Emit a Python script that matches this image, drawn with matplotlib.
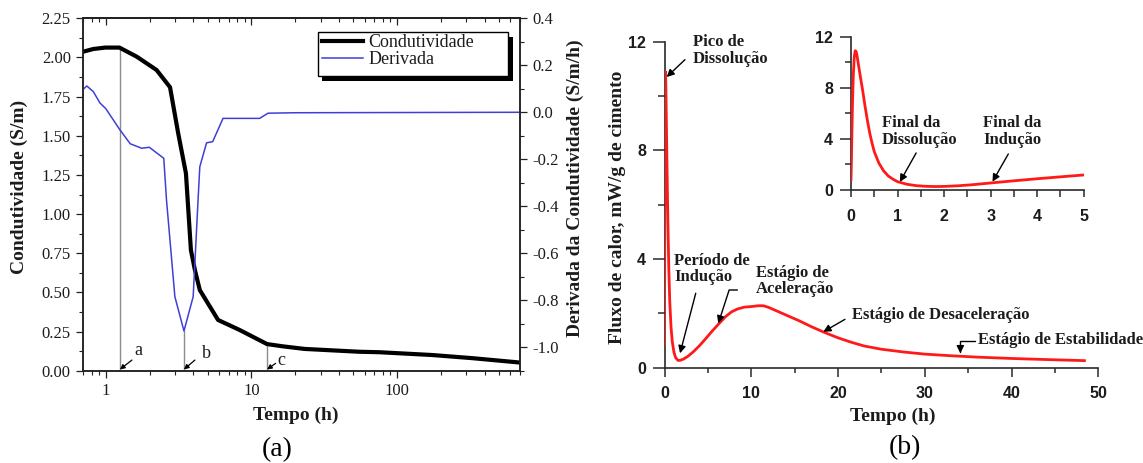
import matplotlib
matplotlib.use("Agg")
import matplotlib.pyplot as plt
from matplotlib.patches import Rectangle
from matplotlib.ticker import MultipleLocator, LogLocator, NullFormatter, FixedLocator

# ---------------- data: panel (a) ----------------
cond_t = [0.7, 0.82, 0.99, 1.24, 1.63, 2.23, 2.76, 3.14, 3.55, 3.84, 4.09, 4.42,
          5.9, 8.3, 12.8, 16.3, 23.2, 55, 75.6, 175, 330, 700]
cond_val = [2.037, 2.054, 2.063, 2.063, 2.005, 1.92, 1.81, 1.516, 1.26, 0.77, 0.643,
            0.515, 0.324, 0.26, 0.17, 0.156, 0.139, 0.121, 0.118, 0.10, 0.08, 0.052]

deriv_t = [0.7, 0.74, 0.82, 0.91, 1.0, 1.25, 1.47, 1.76, 1.99, 2.29, 2.5, 2.61, 2.98,
           3.44, 3.98, 4.3, 4.42, 4.92, 5.42, 6.38, 11.4, 13.0, 20, 700]
deriv_val = [0.098, 0.112, 0.088, 0.04, 0.015, -0.075, -0.134, -0.153, -0.149, -0.178,
             -0.196, -0.373, -0.785, -0.931, -0.785, -0.373, -0.232, -0.13, -0.125,
             -0.026, -0.026, -0.004, -0.002, 0.0]

marker_labels = ["a", "b", "c"]
marker_t = [1.25, 3.44, 12.8]
marker_top = [2.063, 0.253, 0.17]

legend_labels = ["Condutividade", "Derivada"]

# ---------------- data: panel (b) ----------------
flux_t = [0.0, 0.02, 0.05, 0.07, 0.1, 0.15, 0.22, 0.3, 0.4, 0.5, 0.6, 0.75, 0.9, 1.1,
          1.3, 1.55, 1.8, 2.2, 2.7, 3.3, 4.0, 4.7, 5.5, 6.3, 7.0, 7.7, 8.4, 9.2, 10.0,
          10.8, 11.4, 12.0, 13.0, 14.0, 15.5, 17.0, 18.5, 20.0, 21.5, 23.0, 25.0, 27.5,
          30.0, 33.0, 36.0, 40.0, 44.0, 48.4]
flux_val = [0.86, 3.5, 8.0, 9.8, 10.9, 10.5, 9.0, 7.2, 5.2, 3.6, 2.5, 1.5, 0.95, 0.55,
            0.36, 0.27, 0.27, 0.32, 0.42, 0.58, 0.8, 1.05, 1.35, 1.63, 1.87, 2.05, 2.16,
            2.23, 2.25, 2.28, 2.28, 2.22, 2.08, 1.94, 1.73, 1.5, 1.29, 1.1, 0.94, 0.8,
            0.68, 0.58, 0.5, 0.44, 0.39, 0.34, 0.3, 0.26]

inset_t = [0.0, 0.01, 0.02, 0.035, 0.05, 0.07, 0.09, 0.11, 0.13, 0.16, 0.2, 0.25, 0.3,
           0.35, 0.4, 0.45, 0.5, 0.6, 0.7, 0.8, 0.9, 1.0, 1.2, 1.4, 1.6, 1.8, 2.0, 2.3,
           2.6, 3.0, 3.5, 4.0, 4.5, 4.98]
inset_val = [0.8, 2.5, 4.6, 7.2, 9.0, 10.4, 10.9, 10.85, 10.5, 9.8, 8.9, 7.8, 6.6, 5.5,
             4.5, 3.7, 3.0, 2.1, 1.5, 1.1, 0.85, 0.65, 0.45, 0.34, 0.29, 0.27, 0.28,
             0.33, 0.41, 0.55, 0.72, 0.88, 1.03, 1.17]

W, H = 1143, 463
fig = plt.figure(figsize=(W / 100, H / 100), dpi=100)

SERIF = "Liberation Serif"
SANS = "Liberation Sans"
TXT = "#1c1c1c"

# ================= panel (a) =================
ax = fig.add_axes([83.3 / W, 1 - 370.7 / H, 436.7 / W, 352.4 / H])
ax.set_xscale("log")
ax.set_xlim(0.7, 700)
ax.set_ylim(0, 2.25)
ax2 = ax.twinx()
ax2.set_ylim(-1.1, 0.4)

for m_t, m_top in zip(marker_t, marker_top):
    ax.plot([m_t, m_t], [0, m_top], color="#8c8c8c", lw=1.0, zorder=1)

l1, = ax.plot(cond_t, cond_val, color="black", lw=3.0, solid_joinstyle="round", zorder=3)
l2, = ax2.plot(deriv_t, deriv_val, color="#3f3fd8", lw=1.1, zorder=2)

# marker letters with small arrows
letter_pos = [(1.68, 0.132), (4.92, 0.111), (16.0, 0.068)]
arrow_tail = [(1.51, 0.068), (4.09, 0.068), (14.67, 0.047)]
for lab, m_t, (lx, ly), (tx, ty) in zip(marker_labels, marker_t, letter_pos, arrow_tail):
    ax.text(lx, ly, lab, fontsize=13, family=SERIF, color=TXT, ha="center", va="center")
    ax.annotate("", xy=(m_t, 0.008), xytext=(tx, ty),
                arrowprops=dict(arrowstyle="-|>", lw=0.9, color="black", mutation_scale=7,
                                shrinkA=0, shrinkB=0))

ax.yaxis.set_major_locator(MultipleLocator(0.25))
ax.yaxis.set_minor_locator(MultipleLocator(0.125))
ax.yaxis.set_major_formatter(matplotlib.ticker.FormatStrFormatter("%.2f"))
ax.xaxis.set_major_locator(FixedLocator([1, 10, 100]))
ax.xaxis.set_major_formatter(matplotlib.ticker.FixedFormatter(["1", "10", "100"]))
ax.xaxis.set_minor_locator(LogLocator(base=10, subs=range(2, 10)))
ax.xaxis.set_minor_formatter(NullFormatter())
ax2.yaxis.set_major_locator(MultipleLocator(0.2))
ax2.yaxis.set_minor_locator(MultipleLocator(0.1))
ax2.yaxis.set_major_formatter(matplotlib.ticker.FormatStrFormatter("%.1f"))

for a in (ax, ax2):
    for s in a.spines.values():
        s.set_linewidth(1.1)
        s.set_color("#222222")
ax.tick_params(axis="both", which="major", direction="out", length=5, width=0.9,
               labelsize=12, pad=4, colors="#222222", labelcolor=TXT)
ax.tick_params(axis="both", which="minor", direction="out", length=3, width=0.8,
               colors="#222222")
ax2.tick_params(axis="y", which="major", direction="out", length=5, width=0.9,
                labelsize=12, pad=4, colors="#222222", labelcolor=TXT)
ax2.tick_params(axis="y", which="minor", direction="out", length=3, width=0.8,
                colors="#222222")
for lab in ax.get_xticklabels() + ax.get_yticklabels() + ax2.get_yticklabels():
    lab.set_family(SERIF)

# top ticks pointing inward
sec = ax.secondary_xaxis("top")
sec.xaxis.set_major_locator(FixedLocator([1, 10, 100]))
sec.xaxis.set_minor_locator(LogLocator(base=10, subs=range(2, 10)))
sec.xaxis.set_major_formatter(NullFormatter())
sec.xaxis.set_minor_formatter(NullFormatter())
sec.tick_params(which="major", direction="in", length=5, width=0.9, colors="#222222")
sec.tick_params(which="minor", direction="in", length=3, width=0.8, colors="#222222")
sec.spines["top"].set_linewidth(1.1)

ax.set_xlabel("Tempo (h)", fontsize=14, fontweight="bold", family=SERIF, color=TXT, va="center")
ax.xaxis.set_label_coords(0.486, -0.1257)
ax.set_ylabel("Condutividade (S/m)", fontsize=14, fontweight="bold", family=SERIF,
              color=TXT, va="center")
ax.yaxis.set_label_coords(-0.147, 0.522)
ax2.set_ylabel("Derivada da Condutividade (S/m/h)", fontsize=14, fontweight="bold",
               family=SERIF, color=TXT, va="center")
ax2.yaxis.set_label_coords(1.126, 0.517)

# legend with box and black offset shadow
box_x0, box_y0, box_x1, box_y1 = 317.7, 32.3, 508.3, 76.0
ax2.add_patch(Rectangle(((box_x0 + 4.5) / W, 1 - (box_y1 + 4.5) / H),
                        (box_x1 - box_x0) / W, (box_y1 - box_y0) / H,
                        transform=fig.transFigure, facecolor="black", edgecolor="black",
                        lw=0, zorder=4, clip_on=False))
ax2.add_patch(Rectangle((box_x0 / W, 1 - box_y1 / H), (box_x1 - box_x0) / W,
                        (box_y1 - box_y0) / H, transform=fig.transFigure,
                        facecolor="white", edgecolor="black", lw=1.0, zorder=4.5,
                        clip_on=False))
leg = ax2.legend([l1, l2], legend_labels, loc="upper left",
                 bbox_to_anchor=(321.7 / W, 1 - 34.0 / H), bbox_transform=fig.transFigure,
                 frameon=False, borderpad=0, borderaxespad=0, handlelength=2.3,
                 handletextpad=0.27, labelspacing=0.02,
                 prop={"family": SERIF, "size": 13})
leg.set_zorder(5)
for t in leg.get_texts():
    t.set_color(TXT)

fig.text(277 / W, 1 - 450 / H, "(a)", fontsize=20, family=SERIF, ha="center", va="center",
         color="black")

# ================= panel (b) main =================
bx = fig.add_axes([664.5 / W, 1 - 367.7 / H, 433.8 / W, 326.0 / H])
bx.plot(flux_t, flux_val, color="#ff1a1a", lw=2.0, solid_joinstyle="round", zorder=3)
bx.set_xlim(0, 50)
bx.set_ylim(0, 12)
bx.spines["top"].set_visible(False)
bx.spines["right"].set_visible(False)
for s in ("left", "bottom"):
    bx.spines[s].set_linewidth(1.2)
    bx.spines[s].set_color("#2a2a2a")
bx.xaxis.set_major_locator(MultipleLocator(10))
bx.xaxis.set_minor_locator(MultipleLocator(5))
bx.yaxis.set_major_locator(MultipleLocator(4))
bx.yaxis.set_minor_locator(MultipleLocator(2))
bx.tick_params(axis="x", which="major", direction="out", length=6.5, width=1.1, pad=6.5,
               labelsize=11.5, colors="#2a2a2a", labelcolor=TXT)
bx.tick_params(axis="x", which="minor", direction="out", length=3.6, width=1.1,
               colors="#2a2a2a")
bx.tick_params(axis="y", which="major", direction="out", length=8.6, width=1.1, pad=4.8,
               labelsize=11.5, colors="#2a2a2a", labelcolor=TXT)
bx.tick_params(axis="y", which="minor", direction="out", length=4.8, width=1.1,
               colors="#2a2a2a")
for lab in bx.get_xticklabels() + bx.get_yticklabels():
    lab.set_family(SANS)
    lab.set_fontweight("bold")

bx.set_xlabel("Tempo (h)", fontsize=14, fontweight="bold", family=SERIF, color=TXT, va="center")
bx.xaxis.set_label_coords(0.527, -0.148)
bx.set_ylabel("Fluxo de calor, mW/g de cimento", fontsize=14, fontweight="bold",
              family=SERIF, color=TXT, va="center")
bx.yaxis.set_label_coords(-0.108, 0.491)

ann_kw = dict(fontsize=12, fontweight="bold", family=SERIF, color=TXT, ha="left",
              va="center", linespacing=1.05)
arr = dict(arrowstyle="-|>", lw=1.0, color="black", mutation_scale=11, shrinkA=0, shrinkB=0)

bx.text(3.25, 11.68, "Pico de\nDissolução", **ann_kw)
bx.annotate("", xy=(0.25, 10.7), xytext=(2.36, 11.34), arrowprops=dict(arr))
bx.text(1.11, 3.63, "Período de\nIndução", **ann_kw)
bx.annotate("", xy=(1.79, 0.53), xytext=(3.6, 2.74), arrowprops=dict(arr))
bx.text(10.53, 3.19, "Estágio de\nAceleração", **ann_kw)
bx.annotate("", xy=(6.2, 1.63), xytext=(8.4, 2.86),
            arrowprops=dict(arr, connectionstyle="angle,angleA=0,angleB=72,rad=0"))
bx.text(21.58, 1.94, "Estágio de Desaceleração", **ann_kw)
bx.annotate("", xy=(18.3, 1.32), xytext=(20.8, 1.78), arrowprops=dict(arr))
bx.text(36.13, 1.02, "Estágio de Estabilidade", **ann_kw)
bx.annotate("", xy=(34.1, 0.53), xytext=(35.8, 0.99),
            arrowprops=dict(arr, connectionstyle="angle,angleA=0,angleB=90,rad=0"))

# ================= panel (b) inset =================
ix = fig.add_axes([851 / W, 1 - 190 / H, 232.7 / W, 153.3 / H])
ix.plot(inset_t, inset_val, color="#ff1a1a", lw=2.0, solid_joinstyle="round", zorder=3)
ix.set_xlim(0, 5)
ix.set_ylim(0, 12)
ix.patch.set_alpha(0)
ix.spines["top"].set_visible(False)
ix.spines["right"].set_visible(False)
for s in ("left", "bottom"):
    ix.spines[s].set_linewidth(1.2)
    ix.spines[s].set_color("#2a2a2a")
ix.xaxis.set_major_locator(MultipleLocator(1))
ix.xaxis.set_minor_locator(MultipleLocator(0.5))
ix.yaxis.set_major_locator(MultipleLocator(4))
ix.yaxis.set_minor_locator(MultipleLocator(2))
ix.tick_params(axis="x", which="major", direction="out", length=5, width=1.1, pad=9,
               labelsize=11.5, colors="#2a2a2a", labelcolor=TXT)
ix.tick_params(axis="x", which="minor", direction="out", length=5, width=1.1,
               colors="#2a2a2a")
ix.tick_params(axis="y", which="major", direction="out", length=8, width=1.1, pad=4.8,
               labelsize=11.5, colors="#2a2a2a", labelcolor=TXT)
ix.tick_params(axis="y", which="minor", direction="out", length=4.5, width=1.1,
               colors="#2a2a2a")
for lab in ix.get_xticklabels() + ix.get_yticklabels():
    lab.set_family(SANS)
    lab.set_fontweight("bold")

ix.text(0.666, 4.56, "Final da\nDissolução", **ann_kw)
ix.annotate("", xy=(1.05, 0.63), xytext=(1.40, 2.9), arrowprops=dict(arr))
ix.text(2.84, 4.56, "Final da\nIndução", **ann_kw)
ix.annotate("", xy=(3.04, 0.65), xytext=(3.38, 2.82), arrowprops=dict(arr))

fig.text(905 / W, 1 - 448 / H, "(b)", fontsize=20, family=SERIF, ha="center", va="center",
         color="black")

fig.savefig("out.png", dpi=100)
